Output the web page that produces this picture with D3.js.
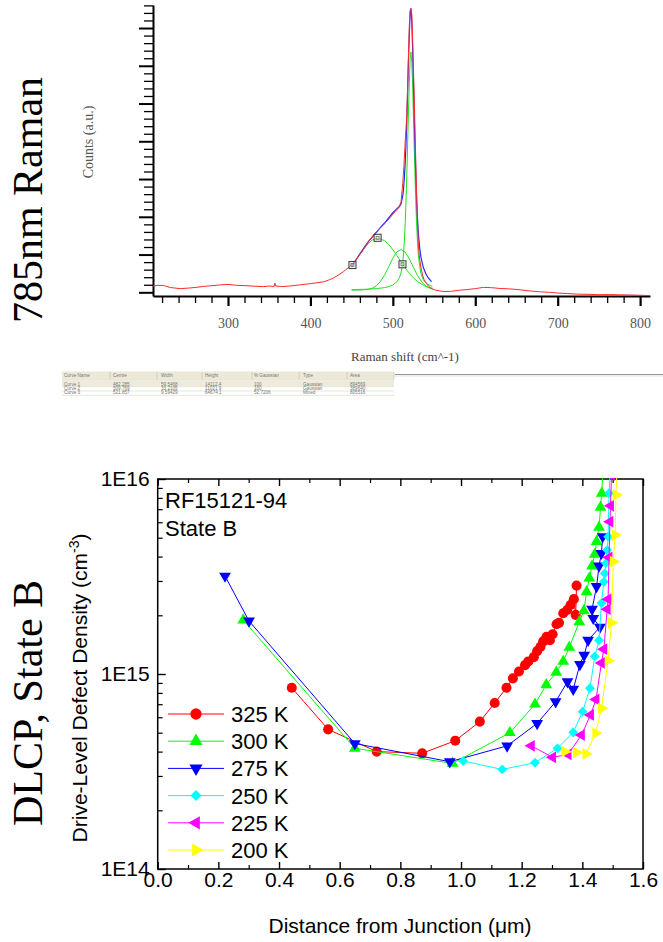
<!DOCTYPE html>
<html>
<head>
<meta charset="UTF-8">
<script src="https://cdn.jsdelivr.net/npm/d3@7"></script>
<style>
body{ margin:0; background:#fff; }
svg{ display:block; }
.serif{ font-family:"Liberation Serif","Times New Roman",serif; }
.sans{ font-family:"Liberation Sans",Arial,sans-serif; }
</style>
</head>
<body>
<script>
// ---------- 785nm Raman spectrum ----------
var ramanShift  = [209,215,222,230,242,252,262,270,278,290,300,310,322,333,343,350,356,357,358,365,375,388,400,408,416,422,428,434,440,446,452,458,464,468,472,477,482,487,492,496,500,503,507,510,512,513.5,515,516,517,518,519,520,521,522,523,524,525,526,527,528,529,530,531,532.5,534,536,538,541,545,550,556,562,570,580,590,600,610,620,630,640,652,665,678,690,700,712,725,738,750,762,775,788,800,812];
var ramanCounts = [2700,2900,2850,2300,2000,2150,2350,2600,2750,3000,3150,2900,2800,2650,2550,2700,2600,3500,2700,2550,2700,3050,3350,3600,3850,4300,4900,5700,6600,7700,8900,10700,12500,13900,15300,16700,17900,19000,20100,21100,22200,23000,23900,25600,30500,35500,42000,45500,49500,57000,66000,73500,77500,78000,76500,70000,62000,53500,44000,35000,26000,19500,13500,10000,7900,5700,4400,3300,2300,1700,1400,1200,1250,1550,1750,2000,2350,2250,2050,1950,1750,1400,1150,1000,800,650,500,450,350,380,330,280,200,100];

// cumulative fit
var fitShift  = [450,455,460,465,470,475,480,485,490,495,500,505,508,510,512,513,514,515,516,517,518,519,520,521,522,523,524,525,526,527,528,529,530,531,532.5,534,537,540,543,547];
var fitCounts = [8060,9700,11460,13100,14670,16000,17270,18600,19810,21200,22600,23710,24300,25010,27200,29100,32200,36090,41500,48270,56300,64250,71200,76800,78100,74470,67000,58200,48800,39760,32100,25640,20700,16930,13200,10640,7720,6030,4900,3900];

// fitted peaks
var peak1Shift  = [450,455,460,465,470,475,482,490,495,500,505,510,515,520,525,530,535,540,545,548];
var peak1Counts = [7930,9570,11260,12850,14200,15180,15710,15020,13960,12550,10930,9240,7610,6160,4920,3920,3170,2610,2230,2070];
var peak2Shift  = [450,460,470,475,480,485,490,495,500,505,510,515,520,525,530,535,540,545,548];
var peak2Counts = [1600,1620,1800,2120,2780,3950,5710,7950,10260,12000,12620,11900,10080,7770,5550,3830,2710,2090,1880];
var peak3Shift  = [450,460,470,480,490,495,500,505,508,510,512,513,514,515,516,517,518,519,520,521,521.9,523,524,525,526,527,528,529,530,531,532.5,534,537,540,545,548];
var peak3Counts = [1735,1780,1860,2000,2280,2540,3000,3890,5000,6350,9000,11610,15200,19680,26000,33090,41800,50430,57900,64400,66270,63500,57000,48660,40000,31520,24400,18630,14300,11040,8200,6170,4400,3600,2860,2600];

var handleShift  = [451, 481.5, 511.7];
var handleCounts = [8400, 15800, 8600];

var ramanTicks = [300, 400, 500, 600, 700, 800];

// fit result table
var fitHeader = ["Curve Name", "Centre", "Width", "Height", "% Gaussian", "Type", "Area"];
var fitRow1 = ["Curve 1", "482.285", "59.5468", "14112.4", "100", "Gaussian", "894569"];
var fitRow2 = ["Curve 2", "509.769", "33.2105", "11021.9", "100", "Gaussian", "389640"];
var fitRow3 = ["Curve 3", "521.857", "9.59429", "64674.1", "52.7206", "Mixed", "805516"];

// ---------- DLCP, State B ----------
var distTicks = [0, 0.2, 0.4, 0.6, 0.8, 1.0, 1.2, 1.4, 1.6];
var densTicks = [1e14, 1e15, 1e16];
var tempLabels = ["325 K", "300 K", "275 K", "250 K", "225 K", "200 K"];

var dist325 = [0.442,0.562,0.722,0.872,0.981,1.062,1.111,1.150,1.171,1.191,1.211,1.222,1.240,1.251,1.262,1.271,1.282,1.293,1.302,1.315,1.323,1.337,1.350,1.361,1.372,1.378,1.381];
var dens325 = [8.5e14,5.2e14,4.0e14,3.92e14,4.55e14,5.7e14,7.1e14,8.5e14,9.5e14,1.03e15,1.11e15,1.16e15,1.22e15,1.31e15,1.38e15,1.47e15,1.55e15,1.49e15,1.60e15,1.80e15,1.83e15,2.05e15,2.13e15,2.26e15,2.42e15,2.01e15,2.84e15];

var dist300 = [0.282,0.650,0.972,1.161,1.244,1.281,1.314,1.337,1.357,1.390,1.405,1.414,1.423,1.432,1.441,1.447,1.455,1.460,1.464,1.468];
var dens300 = [1.89e15,4.16e14,3.48e14,5.0e14,7.0e14,8.8e14,1.02e15,1.16e15,1.37e15,1.85e15,2.11e15,2.64e15,3.10e15,3.58e15,4.11e15,4.78e15,5.65e15,7.16e15,8.45e15,1.1e16];

var dist275 = [0.222,0.301,0.650,0.963,1.152,1.251,1.312,1.351,1.370,1.392,1.406,1.419,1.458,1.436,1.432,1.447,1.455,1.463,1.467];
var dens275 = [3.18e15,1.87e15,4.4e14,3.55e14,4.28e14,5.58e14,7.21e14,9.14e14,8.36e14,1.12e15,1.25e15,1.49e15,1.74e15,1.93e15,2.15e15,2.81e15,3.58e15,4.16e15,5.07e15];

var dist250 = [1.007,1.136,1.244,1.318,1.370,1.401,1.425,1.441,1.455,1.463,1.471,1.474,1.478,1.482,1.485,1.488,1.492];
var dens250 = [3.58e14,3.24e14,3.51e14,4.16e14,5.02e14,6.41e14,8.45e14,1.23e15,1.49e15,2.31e15,2.97e15,3.28e15,3.70e15,4.33e15,5.06e15,8.45e15,1.1e16];

var dist225 = [1.232,1.302,1.353,1.397,1.427,1.445,1.463,1.471,1.482,1.485,1.488,1.491,1.493,1.496];
var dens225 = [4.28e14,3.74e14,3.87e14,4.86e14,6.17e14,7.41e14,1.14e15,1.34e15,2.15e15,2.42e15,3.96e15,6.04e15,7.29e15,1.05e16];

var dist200 = [1.342,1.381,1.412,1.444,1.463,1.485,1.496,1.502,1.508,1.511,1.514];
var dens200 = [4.0e14,3.96e14,3.89e14,4.97e14,6.67e14,1.17e15,1.83e15,3.77e15,5.16e15,8.28e15,1.1e16];

var svg = d3.select("body").append("svg")
	.attr("width", 663)
	.attr("height", 942);

// ================= Raman panel =================
var xR = d3.scaleLinear().domain([209, 812]).range([153, 650]);
var yR = d3.scaleLinear().domain([0, 79000]).range([296, 5]);

var raman = svg.append("g");

// y axis: unlabelled ticks
var yTickVals = d3.range(39).map(function(k){ return 1000 + k * 2050; });
var yMinorG = raman.append("g").attr("transform", "translate(153,0)")
	.call(d3.axisLeft(yR).tickValues(yTickVals.filter(function(v, k){ return k % 5; })).tickSize(9).tickSizeOuter(0).tickFormat(""));
var yMajorG = raman.append("g").attr("transform", "translate(153,0)")
	.call(d3.axisLeft(yR).tickValues(yTickVals.filter(function(v, k){ return k % 5 === 0; })).tickSize(14).tickSizeOuter(0).tickFormat(""));
yMinorG.selectAll("line").attr("stroke-width", 1.3);
yMajorG.selectAll("line").attr("stroke-width", 2);
yMinorG.select(".domain").attr("stroke-width", 2);
yMajorG.select(".domain").remove();

// x axis
var xMinorG = raman.append("g").attr("transform", "translate(0,296)")
	.call(d3.axisBottom(xR).tickValues(d3.range(220, 812, 20).filter(function(v){ return v % 100; })).tickSize(7).tickSizeOuter(0).tickFormat(""));
var xMajorG = raman.append("g").attr("transform", "translate(0,296)")
	.call(d3.axisBottom(xR).tickValues(ramanTicks).tickSize(10).tickSizeOuter(0).tickPadding(12).tickFormat(d3.format("d")));
xMinorG.selectAll("line").attr("stroke-width", 1.3);
xMajorG.selectAll("line").attr("stroke-width", 2.2);
xMinorG.select(".domain").attr("stroke-width", 2);
xMajorG.select(".domain").remove();
xMajorG.selectAll("text")
	.attr("class", "serif")
	.attr("font-size", 14)
	.attr("fill", "#555");

raman.append("text")
	.attr("class", "serif")
	.attr("x", 405).attr("y", 361)
	.attr("text-anchor", "middle")
	.attr("font-size", 13)
	.attr("fill", "#444")
	.text("Raman shift (cm^-1)");

raman.append("text")
	.attr("class", "serif")
	.attr("transform", "translate(93,142) rotate(-90)")
	.attr("text-anchor", "middle")
	.attr("font-size", 14)
	.attr("fill", "#555")
	.text("Counts (a.u.)");

var lineR = d3.line()
	.x(function(d){ return xR(d[0]); })
	.y(function(d){ return yR(d[1]); });

[[peak1Shift, peak1Counts], [peak2Shift, peak2Counts], [peak3Shift, peak3Counts]].forEach(function(p){
	raman.append("path")
		.datum(d3.zip(p[0], p[1]))
		.attr("d", lineR)
		.attr("fill", "none")
		.attr("stroke", "#22e022")
		.attr("stroke-width", 1);
});

raman.append("path")
	.datum(d3.zip(fitShift, fitCounts))
	.attr("d", lineR)
	.attr("fill", "none")
	.attr("stroke", "#2a2aff")
	.attr("stroke-width", 1.2);

raman.append("path")
	.datum(d3.zip(ramanShift, ramanCounts))
	.attr("d", lineR)
	.attr("fill", "none")
	.attr("stroke", "#ff2a2a")
	.attr("stroke-width", 1);

var handles = raman.append("g").selectAll("g")
	.data(d3.zip(handleShift, handleCounts))
	.enter().append("g")
	.attr("transform", function(d){ return "translate(" + xR(d[0]) + "," + yR(d[1]) + ")"; });
handles.append("rect")
	.attr("x", -3.5).attr("y", -3.5).attr("width", 7).attr("height", 7)
	.attr("fill", "#fff").attr("fill-opacity", 0.5)
	.attr("stroke", "#333").attr("stroke-width", 1);
handles.append("rect")
	.attr("x", -1.5).attr("y", -1.5).attr("width", 3).attr("height", 3)
	.attr("fill", "none")
	.attr("stroke", "#666").attr("stroke-width", 0.8);

// big side title
svg.append("text")
	.attr("class", "serif")
	.attr("transform", "translate(27,200) rotate(-90)")
	.attr("text-anchor", "middle")
	.attr("dy", "0.35em")
	.attr("font-size", 42)
	.text("785nm Raman");

// ================= fit table =================
var colX = [64, 113, 161, 205, 254, 303, 350];
var colSep = [110, 157, 202, 252, 299, 347, 394];
var table = svg.append("g").attr("class", "sans");

table.append("rect").attr("x", 62).attr("y", 371.5).attr("width", 332).attr("height", 8.5).attr("fill", "#ece9d8");
table.append("rect").attr("x", 62).attr("y", 380.5).attr("width", 332).attr("height", 6).attr("fill", "#eeebdd");
table.selectAll(".sep")
	.data(colSep)
	.enter().append("line")
	.attr("x1", function(d){ return d; }).attr("x2", function(d){ return d; })
	.attr("y1", 372).attr("y2", 379.5)
	.attr("stroke", "#c9c5b2").attr("stroke-width", 0.8);
[380, 386.7, 391, 395.3].forEach(function(yy){
	table.append("line")
		.attr("x1", 62).attr("x2", 394).attr("y1", yy).attr("y2", yy)
		.attr("stroke", "#e2dfcf").attr("stroke-width", 0.8);
});
table.append("line").attr("x1", 395).attr("x2", 663).attr("y1", 374.5).attr("y2", 374.5)
	.attr("stroke", "#8a8a8a").attr("stroke-width", 0.9);
table.append("line").attr("x1", 395).attr("x2", 663).attr("y1", 376).attr("y2", 376)
	.attr("stroke", "#dcdcdc").attr("stroke-width", 0.8);

[[fitHeader, 377], [fitRow1, 385.6], [fitRow2, 390], [fitRow3, 394.4]].forEach(function(r){
	table.append("g").selectAll("text")
		.data(r[0])
		.enter().append("text")
		.attr("x", function(d, i){ return colX[i]; })
		.attr("y", r[1])
		.attr("font-size", 4.6)
		.attr("fill", "#777")
		.text(function(d){ return d; });
});

// ================= DLCP panel =================
var xD = d3.scaleLinear().domain([0, 1.6]).range([157.7, 643]);
var yD = d3.scaleLog().domain([1e14, 1e16]).range([869, 479]);

var dlcp = svg.append("g");

function styleAxis(g, w){
	g.select(".domain").remove();
	g.selectAll("line").attr("stroke", "#000").attr("stroke-width", w);
}

var distMinor = [0.1, 0.3, 0.5, 0.7, 0.9, 1.1, 1.3, 1.5];
var densMinor = [];
[1e14, 1e15].forEach(function(dec){
	d3.range(2, 10).forEach(function(m){ densMinor.push(m * dec); });
});

var gxb = dlcp.append("g").attr("transform", "translate(0,869)")
	.call(d3.axisBottom(xD).tickValues(distTicks).tickSize(-7).tickPadding(3).tickFormat(d3.format(".1f")));
styleAxis(gxb, 1.4);
gxb.selectAll("text").attr("class", "sans").attr("font-size", 21).attr("fill", "#000");
styleAxis(dlcp.append("g").attr("transform", "translate(0,869)")
	.call(d3.axisBottom(xD).tickValues(distMinor).tickSize(-4).tickFormat("")), 1.2);
styleAxis(dlcp.append("g").attr("transform", "translate(0,479)")
	.call(d3.axisTop(xD).tickValues(distTicks).tickSize(-7).tickFormat("")), 1.4);
styleAxis(dlcp.append("g").attr("transform", "translate(0,479)")
	.call(d3.axisTop(xD).tickValues(distMinor).tickSize(-4).tickFormat("")), 1.2);

var gyl = dlcp.append("g").attr("transform", "translate(157.7,0)")
	.call(d3.axisLeft(yD).tickValues(densTicks).tickSize(-8).tickPadding(8)
		.tickFormat(function(d){ return "1E" + Math.round(Math.log10(d)); }));
styleAxis(gyl, 1.4);
gyl.selectAll("text").attr("class", "sans").attr("font-size", 21).attr("fill", "#000");
styleAxis(dlcp.append("g").attr("transform", "translate(157.7,0)")
	.call(d3.axisLeft(yD).tickValues(densMinor).tickSize(-5).tickFormat("")), 1.2);

dlcp.append("rect")
	.attr("x", xD(0)).attr("y", yD(1e16))
	.attr("width", xD(1.6) - xD(0)).attr("height", yD(1e14) - yD(1e16))
	.attr("fill", "none").attr("stroke", "#000").attr("stroke-width", 1.5);

dlcp.append("text")
	.attr("class", "sans")
	.attr("x", 400).attr("y", 933)
	.attr("text-anchor", "middle")
	.attr("font-size", 21)
	.text("Distance from Junction (\u03bcm)");

var yTitle = dlcp.append("text")
	.attr("class", "sans")
	.attr("transform", "translate(87,688) rotate(-90)")
	.attr("text-anchor", "middle")
	.attr("font-size", 21);
yTitle.append("tspan").text("Drive-Level Defect Density (cm");
yTitle.append("tspan").attr("dy", -8).attr("font-size", 14).text("-3");
yTitle.append("tspan").attr("dy", 8).text(")");

dlcp.append("text").attr("class", "sans").attr("x", 165).attr("y", 508).attr("font-size", 22).text("RF15121-94");
dlcp.append("text").attr("class", "sans").attr("x", 165).attr("y", 535.5).attr("font-size", 22).text("State B");

svg.append("text")
	.attr("class", "serif")
	.attr("transform", "translate(27,703) rotate(-90)")
	.attr("text-anchor", "middle")
	.attr("dy", "0.35em")
	.attr("font-size", 42)
	.text("DLCP, State B");

var series = [
	{label: tempLabels[0], color: "#ff0000", type: d3.symbolCircle, size: 80, rot: 0, xs: dist325, ys: dens325},
	{label: tempLabels[1], color: "#00ff00", type: d3.symbolTriangle, size: 60, rot: 0, xs: dist300, ys: dens300},
	{label: tempLabels[2], color: "#0000ff", type: d3.symbolTriangle, size: 60, rot: 180, xs: dist275, ys: dens275},
	{label: tempLabels[3], color: "#00ffff", type: d3.symbolSquare, size: 48, rot: 45, xs: dist250, ys: dens250},
	{label: tempLabels[4], color: "#ff00ff", type: d3.symbolTriangle, size: 60, rot: -90, xs: dist225, ys: dens225},
	{label: tempLabels[5], color: "#ffff00", type: d3.symbolTriangle, size: 60, rot: 90, xs: dist200, ys: dens200}
];

svg.append("clipPath").attr("id", "plotClip")
	.append("rect")
	.attr("x", xD(0) - 6).attr("y", yD(1e16) - 1)
	.attr("width", xD(1.6) - xD(0) + 12).attr("height", yD(1e14) - yD(1e16) + 2);

var lineD = d3.line()
	.x(function(d){ return xD(d[0]); })
	.y(function(d){ return yD(d[1]); });

var plot = dlcp.append("g").attr("clip-path", "url(#plotClip)");
series.forEach(function(s){
	var pts = d3.zip(s.xs, s.ys);
	plot.append("path")
		.datum(pts)
		.attr("d", lineD)
		.attr("fill", "none")
		.attr("stroke", s.color)
		.attr("stroke-width", 1);
	plot.append("g").selectAll("path")
		.data(pts)
		.enter().append("path")
		.attr("d", d3.symbol().type(s.type).size(s.size))
		.attr("transform", function(d){ return "translate(" + xD(d[0]) + "," + yD(d[1]) + ") rotate(" + s.rot + ")"; })
		.attr("fill", s.color);
});

// legend
var legend = dlcp.append("g").selectAll("g")
	.data(series)
	.enter().append("g")
	.attr("transform", function(d, i){ return "translate(0," + (714 + i * 27.2) + ")"; });
legend.append("line")
	.attr("x1", 168).attr("x2", 224)
	.attr("stroke", function(d){ return d.color; })
	.attr("stroke-width", 1);
legend.append("path")
	.attr("d", function(d){ return d3.symbol().type(d.type).size(d.size * 1.25)(); })
	.attr("transform", function(d){ return "translate(196,0) rotate(" + d.rot + ")"; })
	.attr("fill", function(d){ return d.color; });
legend.append("text")
	.attr("class", "sans")
	.attr("x", 231)
	.attr("dy", "0.36em")
	.attr("font-size", 22)
	.text(function(d){ return d.label; });
</script>
</body>
</html>
